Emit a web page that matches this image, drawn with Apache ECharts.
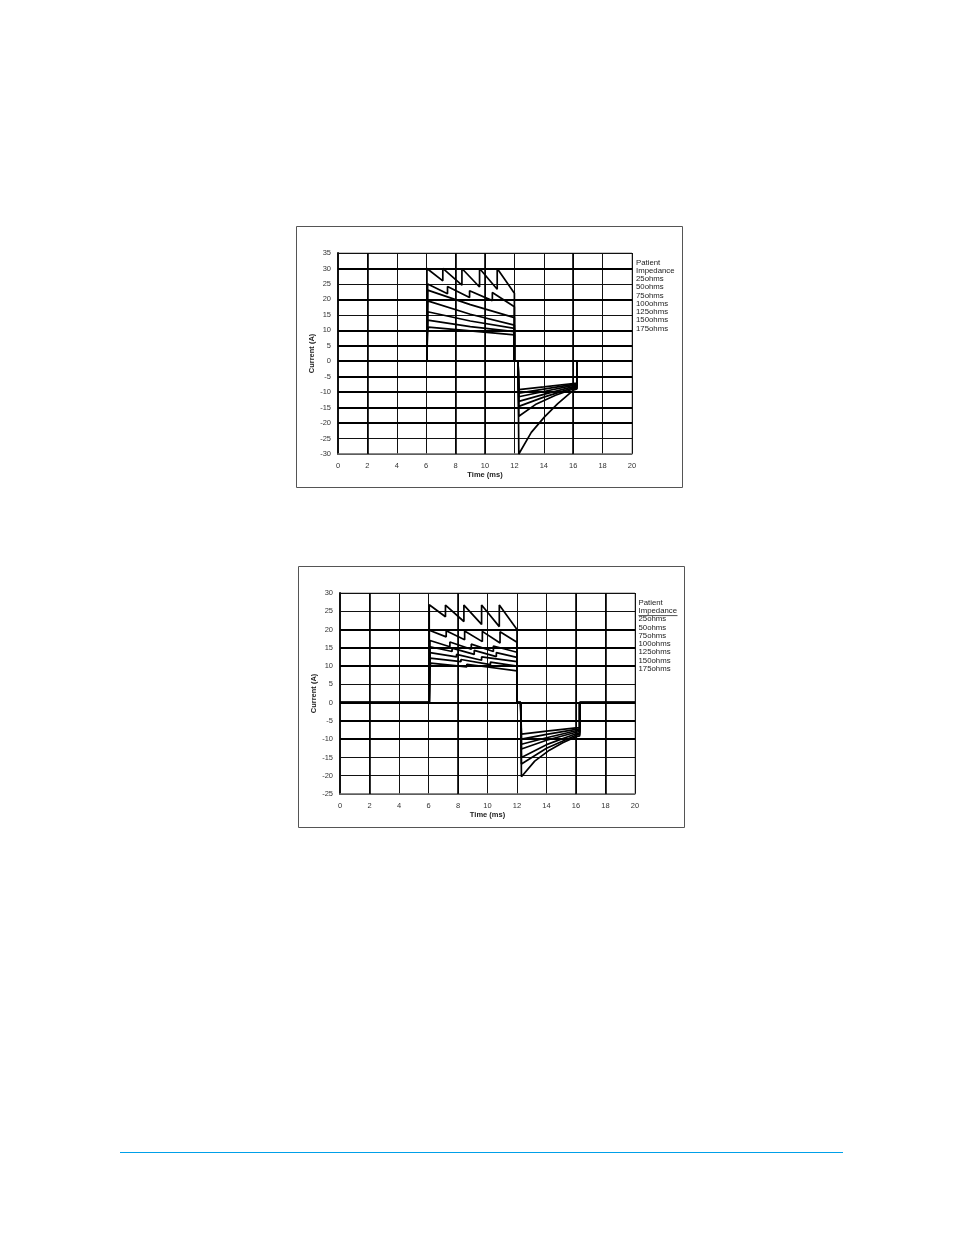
<!DOCTYPE html>
<html>
<head>
<meta charset="utf-8">
<script src="https://cdn.jsdelivr.net/npm/echarts@6/dist/echarts.min.js"></script>
<style>
html,body{margin:0;padding:0;background:#fff;}
#c{width:954px;height:1235px;}
</style>
</head>
<body>
<div id="c"></div>
<script>
// ---------- DATA ----------
const seriesNames = ['25ohms','50ohms','75ohms','100ohms','125ohms','150ohms','175ohms'];
const legendTitle = ['Patient','Impedance'];
const xTitle = 'Time (ms)';
const yTitle = 'Current (A)';

// Top chart: [time ms, current A]
const top25  = [[0,0],[6.05,0],[6.05,30],[7.13,26],[7.13,30],[8.43,24.6],[8.43,30],[9.63,24],[9.63,30],[10.83,23.3],[10.83,30],[12,22],[12,0],[12.25,0],[12.3,-30],[13.15,-23],[14.05,-18],[14.95,-13.7],[16,-9.4],[16.25,-9],[16.25,0],[20,0]];
const top50  = [[0,0],[6.05,0],[6.1,25],[7.45,21.8],[7.45,24.2],[8.95,20.6],[8.95,22.8],[10.5,19.6],[10.5,22.2],[12,17.6],[12,0],[12.25,0],[12.3,-17.8],[13.5,-13.8],[14.8,-11],[16,-9],[16.25,-8.8],[16.25,0],[20,0]];
const top75  = [[0,0],[6.05,0],[6.1,23],[9,18.3],[12,14.1],[12,0],[12.25,0],[12.3,-14.6],[14,-11.6],[16,-8.6],[16.25,-8.4],[16.25,0],[20,0]];
const top100 = [[0,0],[6.05,0],[6.1,19.5],[9,15.2],[12,11.7],[12,0],[12.25,0],[12.3,-13],[14,-10.7],[16,-8.2],[16.25,-8],[16.25,0],[20,0]];
const top125 = [[0,0],[6.05,0],[6.1,16],[9,13],[12,10.6],[12,0],[12.25,0],[12.3,-11.5],[14,-9.8],[16,-7.8],[16.25,-7.7],[16.25,0],[20,0]];
const top150 = [[0,0],[6.05,0],[6.1,13.3],[9,11.2],[12,9.6],[12,0],[12.25,0],[12.3,-10.3],[14,-9],[16,-7.5],[16.25,-7.4],[16.25,0],[20,0]];
const top175 = [[0,0],[6.05,0],[6.05,9],[6.15,11],[9,9.8],[12,8.5],[12,0],[12.25,0],[12.3,-9.2],[14,-8.3],[16,-7.2],[16.25,-7.1],[16.25,0],[20,0]];

// Bottom chart: [time ms, current A]
const bot25  = [[0,0],[6.05,0],[6.05,26.8],[7.15,23.5],[7.15,26.7],[8.4,22.2],[8.4,26.7],[9.6,21.4],[9.6,26.7],[10.8,20.8],[10.8,26.7],[12,20],[12,0],[12.25,0],[12.3,-20.3],[13.2,-16],[14.2,-13],[15.1,-11],[16,-9.3],[16.25,-9.1],[16.25,0],[20,0]];
const bot50  = [[0,0],[6.05,0],[6.05,19.8],[7.2,18],[7.2,19.7],[8.45,17.2],[8.45,19.6],[9.65,16.7],[9.65,19.5],[10.85,16.3],[10.85,19.4],[12,16.5],[12,0],[12.25,0],[12.3,-16.8],[14,-12.5],[16,-8.9],[16.25,-8.7],[16.25,0],[20,0]];
const bot75  = [[0,0],[6.05,0],[6.1,17],[7.45,15.3],[7.45,16.6],[8.9,14.6],[8.9,16],[10.4,14],[10.4,15.5],[12,13.8],[12,0],[12.25,0],[12.3,-15],[14,-11.5],[16,-8.5],[16.25,-8.3],[16.25,0],[20,0]];
const bot100 = [[0,0],[6.05,0],[6.1,15.3],[7.6,14],[7.6,14.9],[9.1,13.2],[9.1,14.3],[10.6,12.6],[10.6,13.7],[12,12.4],[12,0],[12.25,0],[12.3,-12.7],[14,-10.3],[16,-8.1],[16.25,-7.9],[16.25,0],[20,0]];
const bot125 = [[0,0],[6.05,0],[6.1,13.7],[7.9,12.5],[7.9,13.2],[9.6,11.6],[9.6,12.5],[12,11.2],[12,0],[12.25,0],[12.3,-11.4],[14,-9.6],[16,-7.7],[16.25,-7.5],[16.25,0],[20,0]];
const bot150 = [[0,0],[6.05,0],[6.1,12.2],[8.2,11.2],[8.2,11.8],[10.2,10.4],[10.2,11.1],[12,10],[12,0],[12.25,0],[12.3,-10],[14,-8.7],[16,-7.3],[16.25,-7.2],[16.25,0],[20,0]];
const bot175 = [[0,0],[6.05,0],[6.05,9.3],[6.15,10.8],[8.6,9.8],[8.6,10.5],[12,8.7],[12,0],[12.25,0],[12.3,-8.6],[14,-7.8],[16,-6.9],[16.25,-6.8],[16.25,0],[20,0]];

const topSeries = [top25, top50, top75, top100, top125, top150, top175];
const botSeries = [bot25, bot50, bot75, bot100, bot125, bot150, bot175];

// grid emphasis (heavier grid lines as printed)
const topHeavyY = [30,20,10,5,0,-5,-10,-15,-20];
const topHeavyX = [2,8,10,16];
const botHeavyY = [20,15,10,0,-5,-10];
const botHeavyX = [2,8,16,18];

// ---------- CHART ----------
const FONT = '"Liberation Sans", Arial, sans-serif';
const chart = echarts.init(document.getElementById('c'), null, {renderer:'canvas'});

function xAx(gi){
  return {
    type:'value', gridIndex:gi, min:0, max:20, interval:2,
    name:xTitle, nameLocation:'middle', nameGap:17,
    nameTextStyle:{fontFamily:FONT, fontSize:7.5, fontWeight:'bold', color:'#222'},
    axisLine:{show:true, onZero:false, lineStyle:{color:'#777', width:1.5}},
    axisTick:{show:false},
    axisLabel:{fontFamily:FONT, fontSize:7.5, color:'#333', margin:8},
    splitLine:{show:true, lineStyle:{color:'#111', width:1}}
  };
}
function yAx(gi, min, max){
  return {
    type:'value', gridIndex:gi, min:min, max:max, interval:5,
    name:yTitle, nameLocation:'middle', nameGap:21, nameRotate:90,
    nameTextStyle:{fontFamily:FONT, fontSize:7.5, fontWeight:'bold', color:'#222'},
    axisLine:{show:true, onZero:false, lineStyle:{color:'#111', width:2}},
    axisTick:{show:false},
    axisLabel:{fontFamily:FONT, fontSize:7.5, color:'#333', margin:7},
    splitLine:{show:true, lineStyle:{color:'#111', width:1}}
  };
}

function mkSeries(arrs, gi, heavyY, heavyX){
  const out = [{
    type:'line', xAxisIndex:gi, yAxisIndex:gi, data:[], symbol:'none', silent:true, z:1,
    markLine:{
      silent:true, symbol:'none', animation:false, label:{show:false},
      lineStyle:{color:'#000', width:2.1, type:'solid'},
      data: heavyY.map(v=>({yAxis:v})).concat(heavyX.map(v=>({xAxis:v, lineStyle:{width:1.6}})))
    }
  }];
  arrs.forEach((d,i)=>{
    out.push({
      name: seriesNames[i], type:'line', xAxisIndex:gi, yAxisIndex:gi,
      data:d, showSymbol:false, symbol:'none', animation:false,
      lineStyle:{color:'#000', width:1.7}, z:3
    });
  });
  return out;
}

function legendTexts(x, y0, step, underline){
  const labels = legendTitle.concat(seriesNames);
  const els = labels.map((t,i)=>({
    type:'text', left:x, top:y0 + i*step - 4.5,
    style:{text:t, fontFamily:FONT, fontSize:7.8, fill:'#222'}
  }));
  if(underline){
    els.push({type:'line', shape:{x1:x, y1:y0+step+4.3, x2:x+39, y2:y0+step+4.3}, style:{stroke:'#222', lineWidth:0.8}});
  }
  return els;
}

const option = {
  backgroundColor:'#fff',
  animation:false,
  grid:[
    {left:338, top:253, width:294, height:201, show:true, borderColor:'#888', borderWidth:1, backgroundColor:'transparent'},
    {left:340, top:593, width:295, height:201, show:true, borderColor:'#888', borderWidth:1, backgroundColor:'transparent'}
  ],
  xAxis:[xAx(0), xAx(1)],
  yAxis:[yAx(0,-30,35), yAx(1,-25,30)],
  series: mkSeries(topSeries,0,topHeavyY,topHeavyX).concat(mkSeries(botSeries,1,botHeavyY,botHeavyX)),
  graphic:[
    {type:'rect', shape:{x:296.5, y:226.5, width:386, height:261}, style:{fill:'none', stroke:'#555', lineWidth:1}},
    {type:'rect', shape:{x:298.5, y:566.5, width:386, height:261}, style:{fill:'none', stroke:'#555', lineWidth:1}},
    {type:'line', shape:{x1:120, y1:1152.5, x2:843, y2:1152.5}, style:{stroke:'#00a0e9', lineWidth:1.2}}
  ].concat(legendTexts(636, 263, 8.25, false)).concat(legendTexts(638.5, 603, 8.3, true))
};
chart.setOption(option);
</script>
</body>
</html>
